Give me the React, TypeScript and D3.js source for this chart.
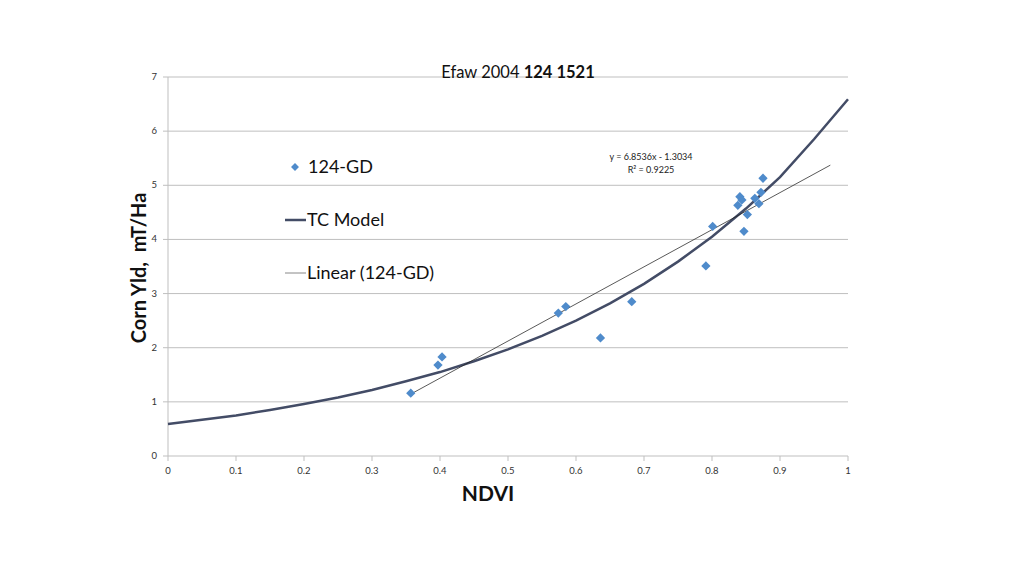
import React from "react";
import * as d3 from "d3";

const ndvi = [0.357, 0.397, 0.403, 0.574, 0.585, 0.636, 0.682, 0.791, 0.801, 0.838, 0.841, 0.844, 0.847, 0.852, 0.863, 0.869, 0.872, 0.875];
const yieldVals = [1.16, 1.68, 1.83, 2.64, 2.76, 2.18, 2.85, 3.51, 4.24, 4.63, 4.79, 4.73, 4.15, 4.46, 4.76, 4.66, 4.87, 5.13];

const tcX = [0, 0.05, 0.1, 0.15, 0.2, 0.25, 0.3, 0.35, 0.4, 0.45, 0.5, 0.55, 0.6, 0.65, 0.7, 0.75, 0.8, 0.85, 0.9, 0.95, 1.0];
const tcY = [0.59, 0.67, 0.75, 0.85, 0.96, 1.08, 1.22, 1.38, 1.55, 1.75, 1.97, 2.22, 2.5, 2.82, 3.18, 3.59, 4.05, 4.57, 5.15, 5.85, 6.59];

const slope = 6.8536;
const intercept = -1.3034;
const trendX = [0.357, 0.974];

const xTicks = [0, 0.1, 0.2, 0.3, 0.4, 0.5, 0.6, 0.7, 0.8, 0.9, 1];
const yTicks = [0, 1, 2, 3, 4, 5, 6, 7];

const FONT = "Lato, 'Open Sans', sans-serif";

export default function App() {
  const x = d3.scaleLinear().domain([0, 1]).range([168, 848]);
  const y = d3.scaleLinear().domain([0, 7]).range([456, 77]);

  const tcLine = d3
    .line<number>()
    .x((_, i) => x(tcX[i]))
    .y((d) => y(d));
  const trendLine = d3
    .line<number>()
    .x((d) => x(d))
    .y((d) => y(slope * d + intercept));

  const diamond = d3.symbol().type(d3.symbolDiamond2).size(55)();
  const legendDiamond = d3.symbol().type(d3.symbolDiamond2).size(40)();

  const markerColor = "#4F8BCB";
  const tcColor = "#434C66";

  return (
    <svg
      width={1024}
      height={576}
      style={{ position: "absolute", left: 0, top: 0, background: "#fff" }}
      fontFamily={FONT}
    >
      {yTicks.filter((t) => t > 0).map((t) => (
        <line key={"g" + t} x1={x(0)} x2={x(1)} y1={y(t)} y2={y(t)} stroke="#BFBFBF" strokeWidth={1} />
      ))}
      <line x1={x(0)} x2={x(1)} y1={y(0)} y2={y(0)} stroke="#BFBFBF" strokeWidth={1} />
      <line x1={x(0)} x2={x(0)} y1={y(0)} y2={y(7)} stroke="#BFBFBF" strokeWidth={1} />
      {xTicks.map((t) => (
        <g key={"xt" + t}>
          <line x1={x(t)} x2={x(t)} y1={y(0)} y2={y(0) + 5} stroke="#BFBFBF" />
          <text x={x(t)} y={y(0) + 18} fontSize={9.5} textAnchor="middle" fill="#333">
            {t}
          </text>
        </g>
      ))}
      {yTicks.map((t) => (
        <g key={"yt" + t}>
          <line x1={x(0) - 5} x2={x(0)} y1={y(t)} y2={y(t)} stroke="#BFBFBF" />
          <text x={x(0) - 11} y={y(t) + 3} fontSize={9.5} textAnchor="end" fill="#333">
            {t}
          </text>
        </g>
      ))}

      <path d={tcLine(tcY) || ""} fill="none" stroke={tcColor} strokeWidth={2.5} />
      <path d={trendLine(trendX) || ""} fill="none" stroke="#222" strokeWidth={0.75} />

      {ndvi.map((v, i) => (
        <path key={"p" + i} d={diamond || ""} transform={`translate(${x(v)},${y(yieldVals[i])})`} fill={markerColor} />
      ))}

      <text x={651} y={160} fontSize={9} textAnchor="middle" fill="#222">
        y = 6.8536x - 1.3034
      </text>
      <text x={651} y={173} fontSize={9} textAnchor="middle" fill="#222">
        R² = 0.9225
      </text>

      <path d={legendDiamond || ""} transform="translate(295,167)" fill={markerColor} />
      <text x={308} y={173} fontSize={18} fill="#111">124-GD</text>
      <line x1={285} x2={306} y1={220} y2={220} stroke={tcColor} strokeWidth={2.5} />
      <text x={307} y={226} fontSize={18} fill="#111">TC Model</text>
      <line x1={285} x2={306} y1={273} y2={273} stroke="#888" strokeWidth={1} />
      <text x={307} y={279} fontSize={18} fill="#111">Linear (124-GD)</text>

      <text x={518} y={78} fontSize={16.5} textAnchor="middle" fill="#111">
        Efaw 2004 <tspan fontWeight="bold">124 1521</tspan>
      </text>

      <text x={488} y={501} fontSize={21} fontWeight="bold" textAnchor="middle" fill="#111">
        NDVI
      </text>
      <text
        transform="translate(146,268) rotate(-90)"
        fontSize={20}
        fontWeight="bold"
        textAnchor="middle"
        fill="#111"
        style={{ whiteSpace: "pre" }}
      >
        {"Corn Yld,  mT/Ha"}
      </text>
    </svg>
  );
}
